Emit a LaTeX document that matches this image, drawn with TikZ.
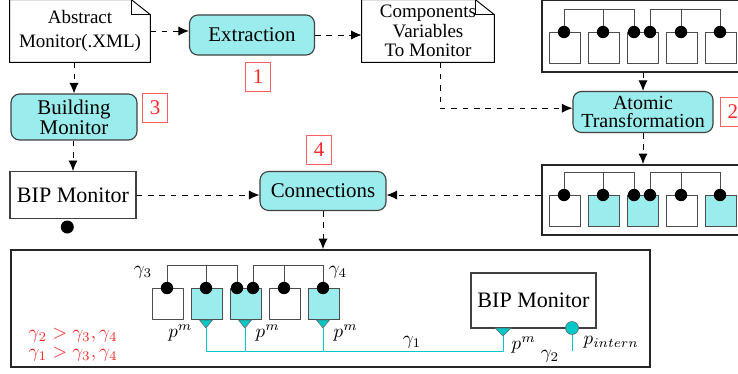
\documentclass[tikz,border=0pt]{standalone}
\usepackage{fontspec}
\setmainfont{Liberation Serif}
\usepackage{amsmath}
\usetikzlibrary{arrows.meta}

\definecolor{atomcyan}{RGB}{155,236,236}
\definecolor{portcyan}{RGB}{0,200,200}
\definecolor{stagered}{RGB}{250,40,40}

\begin{document}
\begin{tikzpicture}[x=0.5263pt,y=-0.5263pt,
	every node/.style={black,font=\fontsize{10}{12.6}\selectfont},
	docnode/.style={align=center,minimum width=73.7pt,minimum height=32.6pt,inner sep=0pt},
	procbox/.style={draw=black!75,line width=0.6pt,fill=atomcyan,rounded corners=4.5pt,align=center,inner sep=0pt,font=\fontsize{11}{9}\selectfont},
	bipbox/.style={draw=black!75,line width=0.6pt,inner sep=0pt,font=\fontsize{11.6}{12}\selectfont},
	bankbox/.style={draw=black!85,line width=0.9pt,inner sep=0pt},
	stagebox/.style={draw=stagered!75,text=stagered,line width=0.5pt,inner sep=0pt,minimum width=13pt,minimum height=15.5pt,font=\fontsize{11}{11}\selectfont},
	flowarrow/.style={dashed,line width=0.5pt,-{Latex[length=5.5pt,width=4.8pt]}},
	atombox/.style={draw=black!70,line width=0.5pt},
	portfill/.style={fill=portcyan,draw=black!60,line width=0.3pt},
	buswire/.style={draw=portcyan,line width=0.5pt}]
	\useasboundingbox (0,0) rectangle (738,373);
	\clip (0,0) rectangle (738,373);

	% documents and steps
	\node[docnode] (xml) at (80,31) {Abstract\\Monitor(.XML)};
	\node[docnode,minimum width=69.5pt,font=\fontsize{10}{10.3}\selectfont] (vars) at (428,31) {Components\\Variables\\To Monitor};
	\foreach \d in {xml,vars} {
		\draw[line width=0.5pt] (\d.south west) -- (\d.north west) -- ([xshift=-10pt]\d.north east)
			-- ([yshift=-7.9pt]\d.north east) -- (\d.south east) -- cycle;
		\draw[line width=0.5pt] ([xshift=-10pt]\d.north east) -- ++(0pt,-7.9pt) -- ([yshift=-7.9pt]\d.north east);
	}

	\node[procbox,minimum width=65.8pt,minimum height=21.1pt] (extract) at (252,35) {Extraction};
	\node[procbox,minimum width=73.7pt,minimum height=21.6pt,font=\fontsize{10.5}{9.6}\selectfont] (atomic) at (643,112) {Atomic\\Transformation};
	\node[procbox,minimum width=66.3pt,minimum height=24.2pt] (build) at (74,117) {Building\\Monitor};
	\node[procbox,minimum width=66.3pt,minimum height=20.5pt] (conn) at (323,191) {Connections};
	\node[bipbox,minimum width=66.3pt,minimum height=24.7pt] (bip) at (73,195) {BIP Monitor};
	\fill ([xshift=-3pt,yshift=-4.2pt]bip.south) circle (6.5);

	\node[stagebox] (s1) at (258,77) {1};
	\node[stagebox,anchor=west] (s2) at (720,112) {2};
	\node[stagebox] (s3) at (155,108) {3};
	\node[stagebox] (s4) at (319,150) {4};

	% component banks
	\node[bankbox,anchor=north west,minimum width=107pt,minimum height=37.9pt] (topbank) at (541,-1) {};
	\node[bankbox,anchor=north west,minimum width=107pt,minimum height=36.8pt] (midbank) at (541,164) {};
	\node[bankbox,minimum width=336.3pt,minimum height=61.6pt] (system) at (330.5,308.5) {};
	\node[bipbox,minimum width=65.8pt,minimum height=28.9pt] (innerbip) at (533.5,300.5) {BIP Monitor};

	\foreach \bx/\by/\fc in {549/32/white,549/195/atomcyan,152/288/atomcyan} {
		\begin{scope}[shift={(\bx,\by)}]
			\foreach \i/\sq in {0/white,1/\fc,2/\fc,3/white,4/\fc}
				\draw[atombox,fill=\sq] (\i*39,0) rectangle ++(31,31);
			\draw[atombox] (15,0) |- (85,-23) -- (85,0) (54,-23) -- (54,0);
			\draw[atombox] (101,0) |- (171,-23) -- (171,0) (132,-23) -- (132,0);
			\foreach \dt in {15,54,85,101,132,171}
				\fill (\dt,0) circle (6.2);
		\end{scope}
	}

	% flow
	\begin{scope}[flowarrow]
		\draw (xml.east) -- (xml.east -| extract.west);
		\draw (extract.east) -- (extract.east -| vars.west);
		\draw ([xshift=6.3pt]vars.south) |- ([yshift=2pt]atomic.west);
		\draw (topbank.south -| atomic) -- (atomic.north);
		\draw (atomic.south) -- (atomic.south |- midbank.north);
		\draw (xml.south -| build) -- (build.north);
		\draw (build.south -| bip) -- (bip.north);
		\draw (bip.east) -- (bip.east -| conn.west);
		\draw (midbank.west |- bip) -- (conn.east |- bip);
		\draw (conn.south) -- (conn.south |- system.north);
	\end{scope}

	% ports of the monitored system
	\coordinate (mport) at (503,328);
	\coordinate (iport) at (572,328);
	\foreach \px in {206,245,323} {
		\draw[buswire] (\px,328) -- (\px,351);
		\draw[portfill] (\px-6.5,320) -- (\px+6.5,320) -- (\px,328) -- cycle;
	}
	\draw[buswire] (206,351) -| (mport);
	\draw[portfill] (mport) ++(-8,0) -- ++(16,0) -- ++(-8,8) -- cycle;
	\draw[buswire] (iport) ++(0,6.5) -- ++(0,16.5);
	\draw[portfill] (iport) circle (6.5);

	\node (g3) at (143,272) {$\gamma_3$};
	\node (g4) at (338,272) {$\gamma_4$};
	\node[anchor=east] (pm1) at (199,333) {$p^m$};
	\node[anchor=west] (pm2) at (249,333) {$p^m$};
	\node[anchor=west] (pm3) at (327,333) {$p^m$};
	\node[anchor=west] (pm4) at (505,345) {$p^m$};
	\node (g1) at (412,342) {$\gamma_1$};
	\node (g2) at (550,356) {$\gamma_2$};
	\node[anchor=west] (pin) at (577,342) {$p_{intern}$};
	\node[text=stagered,anchor=west] (prio2) at (22,335) {$\gamma_2 > \gamma_3, \gamma_4$};
	\node[text=stagered,anchor=west] (prio1) at (22,354) {$\gamma_1 > \gamma_3, \gamma_4$};
\end{tikzpicture}
\end{document}
